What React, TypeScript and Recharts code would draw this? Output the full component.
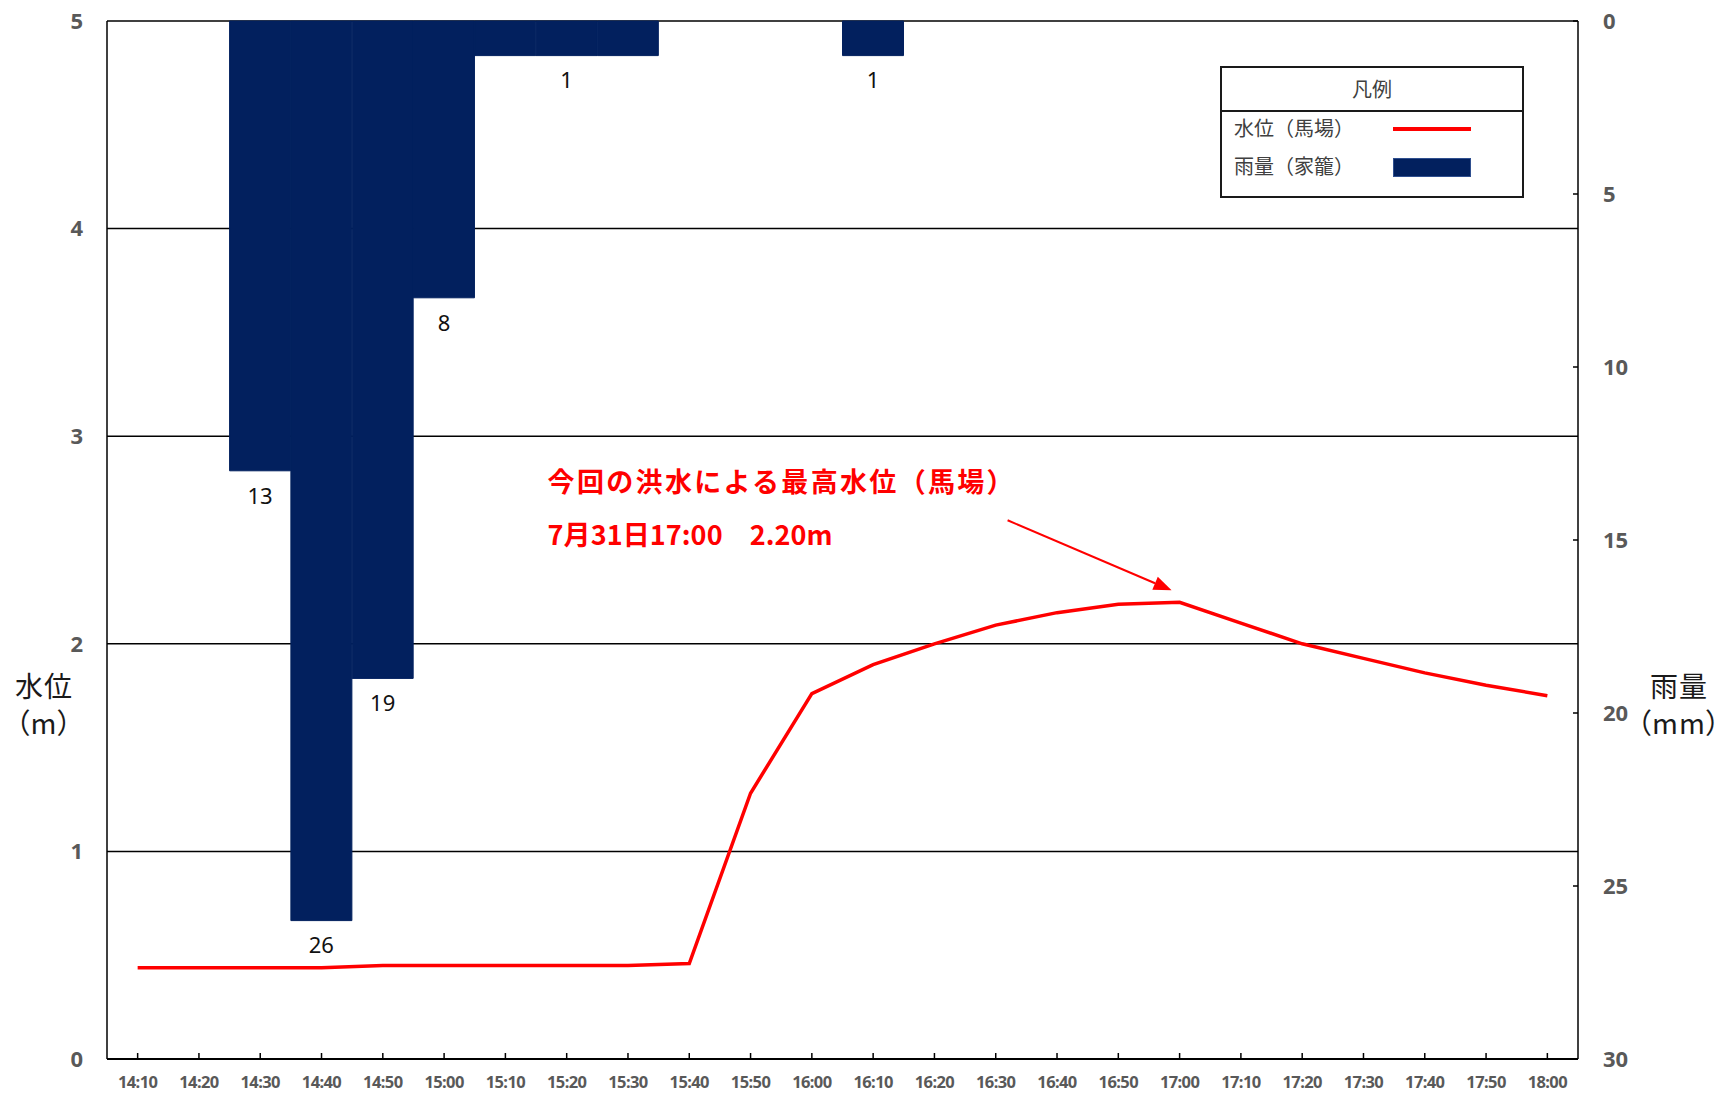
import React from 'react';
import {
  ComposedChart,
  Bar,
  Line,
  XAxis,
  YAxis,
  CartesianGrid,
  LabelList,
  ReferenceDot,
} from 'recharts';

// 10-minute observation times
const times = [
  '14:10', '14:20', '14:30', '14:40', '14:50',
  '15:00', '15:10', '15:20', '15:30', '15:40', '15:50',
  '16:00', '16:10', '16:20', '16:30', '16:40', '16:50',
  '17:00', '17:10', '17:20', '17:30', '17:40', '17:50',
  '18:00',
];

// water level at 馬場 (m)
const waterLevel = [
  0.44, 0.44, 0.44, 0.44, 0.45,
  0.45, 0.45, 0.45, 0.45, 0.46, 1.28,
  1.76, 1.90, 2.00, 2.09, 2.15, 2.19,
  2.20, 2.10, 2.00, 1.93, 1.86, 1.80,
  1.75,
];

// 10-minute rainfall at 家籠 (mm)
const rainfall = [
  0, 0, 13, 26, 19,
  8, 1, 1, 1, 0, 0,
  0, 1, 0, 0, 0, 0,
  0, 0, 0, 0, 0, 0,
  0,
];

// bars whose values are printed under them
const rainLabelTimes = ['14:30', '14:40', '14:50', '15:00', '15:20', '16:10'];

const levelTicks = [0, 1, 2, 3, 4, 5];
const rainTicks = [0, 5, 10, 15, 20, 25, 30];

const levelName = '水位（馬場）';
const rainName = '雨量（家籠）';
const levelAxisTitle = ['水位', '（m）'];
const rainAxisTitle = ['雨量', '（mm）'];
const legendTitle = '凡例';

const peakTime = '17:00';
const peakLevel = 2.2;
const peakNote = ['今回の洪水による最高水位（馬場）', '7月31日17:00　2.20m'];

const data = times.map((time, i) => ({
  time,
  level: waterLevel[i],
  rain: rainfall[i],
  rainLabel: rainLabelTimes.includes(time) ? rainfall[i] : null,
}));

const NAVY = '#02205E';
const RED = '#FF0000';
const CJK = '"Noto Sans CJK JP", "Noto Sans", sans-serif';

const axisTick = {
  fill: '#595959',
  fontFamily: '"Noto Sans", sans-serif',
  fontWeight: 700,
  fontSize: 22,
};

const renderRainLabel = (props: any) => {
  const { x, y, width, height, value } = props;
  if (value === null || value === undefined || value === '') return null;
  const bottom = Math.max(Number(y), Number(y) + Number(height));
  return (
    <text
      x={Number(x) + Number(width) / 2}
      y={bottom + 27}
      textAnchor="middle"
      dominantBaseline="middle"
      fill="#111"
      fontFamily='"Noto Sans", sans-serif'
      fontSize={22}
    >
      {value}
    </text>
  );
};

// arrow and note pointing at the flood peak
const PeakNote = (props: any) => {
  const { cx, cy } = props;
  const tipX = cx - 8;
  const tipY = cy - 12;
  const startX = cx - 172;
  const startY = cy - 82;
  const ang = Math.atan2(tipY - startY, tipX - startX);
  const headLen = 18;
  const headHalf = 7;
  const baseX = tipX - headLen * Math.cos(ang);
  const baseY = tipY - headLen * Math.sin(ang);
  const px = -Math.sin(ang) * headHalf;
  const py = Math.cos(ang) * headHalf;
  return (
    <g>
      <line x1={startX} y1={startY} x2={baseX} y2={baseY} stroke={RED} strokeWidth={2} />
      <polygon
        points={`${tipX},${tipY} ${baseX + px},${baseY + py} ${baseX - px},${baseY - py}`}
        fill={RED}
      />
      <text
        x={cx - 632}
        y={cy - 118}
        dominantBaseline="middle"
        fill={RED}
        fontFamily={CJK}
        fontWeight={700}
        fontSize={27}
        textLength={466}
      >
        {peakNote[0]}
      </text>
      <text
        x={cx - 632}
        y={cy - 65}
        dominantBaseline="middle"
        fill={RED}
        fontFamily={CJK}
        fontWeight={700}
        fontSize={27}
        textLength={285}
      >
        {peakNote[1]}
      </text>
    </g>
  );
};

const AxisTitle = ({ lines, centerX }: { lines: string[]; centerX: number }) => (
  <div
    style={{
      position: 'absolute',
      left: centerX - 45,
      top: 667,
      width: 90,
      textAlign: 'center',
      fontFamily: CJK,
      fontSize: 28,
      lineHeight: '37px',
      color: '#1a1a1a',
      whiteSpace: 'nowrap',
      fontFeatureSettings: '"palt" 1',
      letterSpacing: 1,
    }}
  >
    {lines.map((l) => (
      <div key={l}>{l}</div>
    ))}
  </div>
);

const LegendBox = () => (
  <div
    style={{
      position: 'absolute',
      left: 1220,
      top: 66,
      width: 300,
      height: 128,
      border: '2px solid #1a1a1a',
      background: '#fff',
      fontFamily: CJK,
      fontSize: 20,
      color: '#404040',
    }}
  >
    <div
      style={{
        height: 42,
        lineHeight: '42px',
        textAlign: 'center',
        borderBottom: '2px solid #1a1a1a',
      }}
    >
      {legendTitle}
    </div>
    <div style={{ position: 'absolute', left: 12, top: 46, lineHeight: '28px' }}>{levelName}</div>
    <div style={{ position: 'absolute', left: 12, top: 84, lineHeight: '28px' }}>{rainName}</div>
    <div
      style={{ position: 'absolute', left: 171, top: 59, width: 78, height: 4, background: RED }}
    />
    <div
      style={{
        position: 'absolute',
        left: 171,
        top: 90,
        width: 78,
        height: 19,
        background: NAVY,
        boxSizing: 'border-box',
        border: '1px solid #2F4F8F',
      }}
    />
  </div>
);

export default function App() {
  return (
    <div
      style={{
        position: 'absolute',
        left: 0,
        top: 0,
        width: 1725,
        height: 1096,
        background: '#fff',
        overflow: 'hidden',
      }}
    >
      <ComposedChart
        width={1725}
        height={1096}
        data={data}
        margin={{ top: 21, right: 0, bottom: 0, left: 0 }}
        barCategoryGap={0}
        barGap={0}
      >
        <CartesianGrid
          yAxisId="level"
          vertical={false}
          stroke="#000"
          strokeWidth={1.5}
        />
        <XAxis
          dataKey="time"
          height={37}
          interval={0}
          axisLine={{ stroke: '#000', strokeWidth: 2 }}
          tickLine={{ stroke: '#000', strokeWidth: 1.5 }}
          tickSize={-6}
          tickMargin={23}
          tick={{
            fill: '#595959',
            fontFamily: '"Noto Sans", sans-serif',
            fontWeight: 700,
            fontSize: 16.5,
            letterSpacing: -0.6,
          }}
        />
        <YAxis
          yAxisId="level"
          orientation="left"
          width={107}
          domain={[0, 5]}
          ticks={levelTicks}
          interval={0}
          axisLine={{ stroke: '#000', strokeWidth: 1.5 }}
          tickLine={false}
          tickSize={0}
          tickMargin={24}
          tick={axisTick}
        />
        <YAxis
          yAxisId="rain"
          orientation="right"
          width={147}
          domain={[0, 30]}
          reversed
          ticks={rainTicks}
          interval={0}
          axisLine={{ stroke: '#000', strokeWidth: 1.5 }}
          tickLine={{ stroke: '#000', strokeWidth: 1.5 }}
          tickSize={-5}
          tickMargin={30}
          tick={{ ...axisTick, textAnchor: 'start' }}
        />
        <Bar
          yAxisId="rain"
          dataKey="rain"
          name={rainName}
          fill={NAVY}
          stroke={NAVY}
          strokeWidth={1}
          isAnimationActive={false}
        >
          <LabelList dataKey="rainLabel" content={renderRainLabel} />
        </Bar>
        <Line
          yAxisId="level"
          type="linear"
          dataKey="level"
          name={levelName}
          stroke={RED}
          strokeWidth={3.5}
          dot={false}
          activeDot={false}
          isAnimationActive={false}
        />
        <ReferenceDot
          yAxisId="level"
          x={peakTime}
          y={peakLevel}
          ifOverflow="visible"
          shape={PeakNote}
        />
      </ComposedChart>
      <AxisTitle lines={levelAxisTitle} centerX={44} />
      <AxisTitle lines={rainAxisTitle} centerX={1679} />
      <LegendBox />
    </div>
  );
}
